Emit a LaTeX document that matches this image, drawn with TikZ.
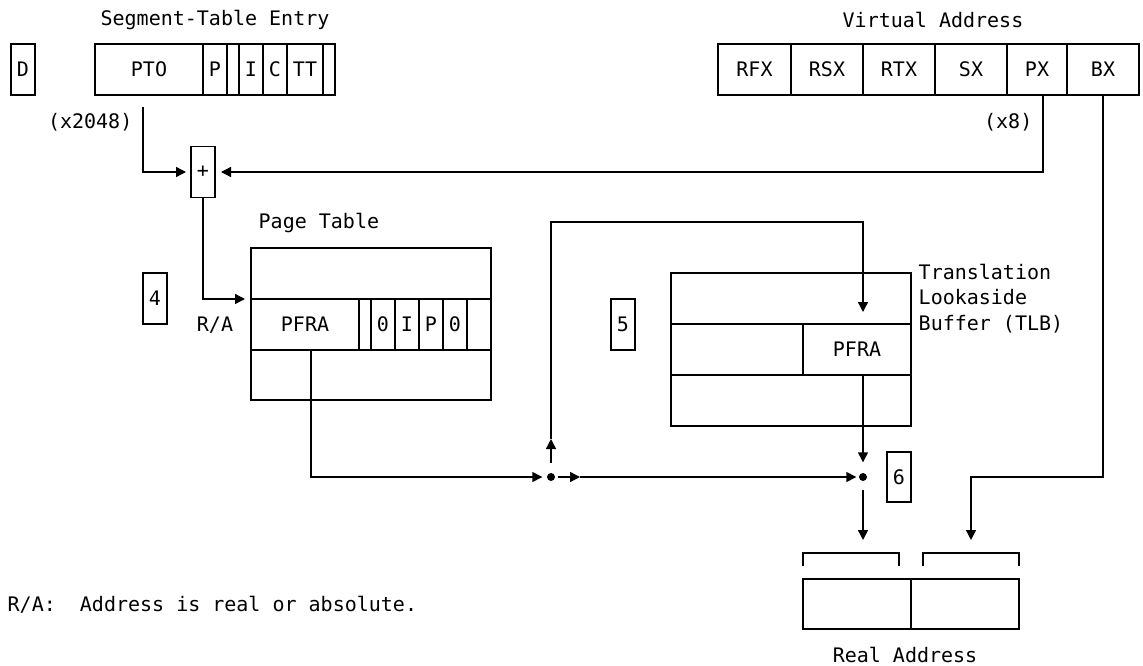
\documentclass[tikz,border=0pt]{standalone}
\usepackage{fontspec}
\setmonofont{DejaVu Sans Mono}
\usetikzlibrary{positioning,arrows.meta}

\begin{document}
\begin{tikzpicture}[x=1pt,y=-1pt,
		font=\ttfamily\fontsize{20}{25.5}\selectfont,
		line width=1.4pt,inner sep=0pt,
		camp/.style={draw,outer sep=0pt,minimum height=51pt},
		pas/.style={-{Triangle[length=10pt,width=10pt]}},
		punt/.style={circle,fill,minimum size=8pt}]
	\useasboundingbox (0,0) rectangle (1143,666);

	% Entrada de la taula de segments
	\node (stelab) at (215,20) {Segment-Table Entry};
	\node[camp,minimum width=24pt] (d) at (23,69.5) {D};
	\node[camp,minimum width=108pt] (pto) at (149,69.5) {PTO};
	\foreach \n/\w/\lab [remember=\n as \ant (initially pto)] in
		{p/24/P,b1/12/{},i/24/I,c/24/C,tt/36/TT,b2/12/{}} {
		\node[camp,minimum width=\w pt,right=0pt of \ant] (\n) {\lab};
	}
	\node[anchor=east] (x2048) at (133,122) {(x2048)};

	% Adreca virtual
	\node (valab) at (933,20) {Virtual Address};
	\node[camp,minimum width=73pt] (rfx) at (754.5,69.5) {RFX};
	\foreach \n/\w/\lab [remember=\n as \ant (initially rfx)] in
		{rsx/72/RSX,rtx/72/RTX,sx/72/SX,px/60/PX,bx/72/BX} {
		\node[camp,minimum width=\w pt,right=0pt of \ant] (\n) {\lab};
	}
	\node[anchor=east] (x8) at (1033,122) {(x8)};

	% Suma
	\node[camp,minimum width=24pt] (suma) at (203,172) {+};
	\coordinate (c1) at (143,107);
	\draw[pas,shorten >=5pt] (c1) |- (suma.west);
	\draw[pas,shorten >=6pt] ([xshift=6pt]px.south) |- (suma.east);

	% Taula de pagines
	\node[anchor=west] (ptlab) at (258,223) {Page Table};
	\node[camp,minimum width=240pt] (pt1) at (371,273.5) {};
	\node[camp,minimum width=108pt] (pfra) at (305,324.5) {PFRA};
	\foreach \n/\w/\lab [remember=\n as \ant (initially pfra)] in
		{e1/12/{},e2/24/0,e3/24/I,e4/24/P,e5/24/0,e6/24/{}} {
		\node[camp,minimum width=\w pt,right=0pt of \ant] (\n) {\lab};
	}
	\node[camp,minimum width=240pt,minimum height=50pt] (pt3) at (371,375) {};
	\node (ra) at (215,325) {R/A};
	\node[camp,minimum width=24pt] (q4) at (155,298.5) {4};
	\draw[pas,shorten >=6pt] (suma.south) |- (pfra.north west);

	% TLB
	\node[camp,minimum width=240pt] (tlb1) at (791,298.5) {};
	\node[camp,minimum width=132pt] (tlbl) at (737,349.5) {};
	\node[camp,minimum width=108pt,right=0pt of tlbl] (tlbpfra) {PFRA};
	\node[camp,minimum width=240pt] (tlb3) at (791,400.5) {};
	\node[anchor=west,align=left] (tlblab) at (918,298.5) {Translation\\Lookaside\\Buffer (TLB)};
	\node[camp,minimum width=24pt] (q5) at (623,324.5) {5};

	% Punts d'unio
	\node[punt] (dot1) at (551,477) {};
	\node[punt] (dot2) at (863,477) {};
	\node[camp,minimum width=24pt,minimum height=50pt] (q6) at (899,477) {6};
	\coordinate (dalt) at (551,222);

	\draw[pas,shorten >=4pt] ([xshift=6pt]pfra.south) |- (dot1);
	\draw[pas,shorten <=9pt] (dot1) -- (dot1 |- 0,439);
	\draw[pas,shorten >=12pt] (dot1 |- 0,439) -- (dalt) -| ([xshift=6pt]tlbpfra.north);
	\draw[pas,shorten <=2pt] (dot1) -- ([xshift=29pt]dot1.center);
	\draw[pas,shorten >=2pt] ([xshift=29pt]dot1.center) -- (dot2);
	\draw[pas,shorten >=10pt] ([xshift=6pt]tlbpfra.south) -- (dot2);

	% Adreca real
	\node[camp,minimum width=108pt,minimum height=50pt] (real1) at (857,604) {};
	\node[camp,minimum width=108pt,minimum height=50pt,right=0pt of real1] (real2) {};
	\node (reallab) at (905,655) {Real Address};
	\draw (803,566) |- (899,553) -- (899,566);
	\draw (923,566) |- (1019,553) -- (1019,566);
	\draw[pas,shorten <=8pt] (dot2) -- (dot2 |- 0,540);
	\coordinate (bxcol) at (971,477);
	\draw[pas] (bx.south) |- (bxcol) -- (bxcol |- 0,540);

	\node[anchor=west] (nota) at (7,605) {R/A:~~Address is real or absolute.};
\end{tikzpicture}
\end{document}
